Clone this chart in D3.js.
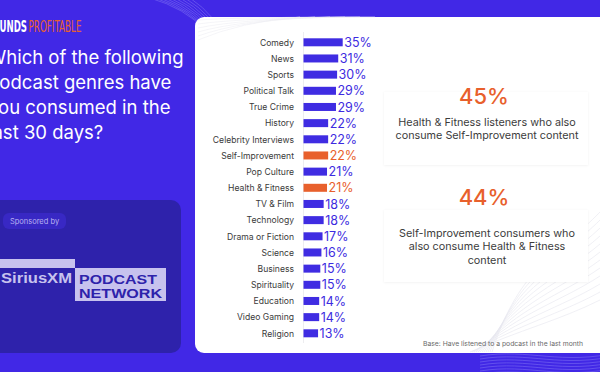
<!DOCTYPE html>
<html><head><meta charset="utf-8">
<script src="https://cdn.jsdelivr.net/npm/d3@7"></script>
<style>html,body{margin:0;padding:0;background:#4128E6;overflow:hidden}svg{display:block}</style>
</head><body>
<svg id="c" width="600" height="372"></svg>
<script>
const categories = ["Comedy","News","Sports","Political Talk","True Crime","History","Celebrity Interviews","Self-Improvement","Pop Culture","Health & Fitness","TV & Film","Technology","Drama or Fiction","Science","Business","Spirituality","Education","Video Gaming","Religion"];
const values = [35,31,30,29,29,22,22,22,21,21,18,18,17,16,15,15,14,14,13];
const highlighted = ["Self-Improvement","Health & Fitness"];
const titleLines = ["Which of the following","podcast genres have","you consumed in the","last 30 days?"];
const stats = [
  {value:"45%", lines:["Health & Fitness listeners who also","consume Self-Improvement content"]},
  {value:"44%", lines:["Self-Improvement consumers who","also consume Health & Fitness","content"]}
];
const footnote = "Base: Have listened to a podcast in the last month";

const BLUE="#4128E6", BAR="#3F2CE2", ORANGE="#E8602C";
const svg = d3.select("#c");
const font = "Inter, 'Open Sans', sans-serif";
const condensed = "'Liberation Sans Narrow','DejaVu Sans Condensed',sans-serif";

svg.append("rect").attr("width",600).attr("height",372).attr("fill",BLUE);

// decorative lines on blue
const defs = svg.append("defs");
const deco = svg.append("g").attr("fill","none");
for(let i=0;i<9;i++){
  deco.append("path")
    .attr("d",`M${150+i*5},-2 Q${185+i*4},${8+i*1} ${205+i*3},${30+i*2}`)
    .attr("stroke","#8E82F5").attr("stroke-opacity",0.55).attr("stroke-width",0.8);
}
for(let i=0;i<9;i++){
  deco.append("path")
    .attr("d",`M480,${356+i*3} C530,${348+i*3} 560,${366+i*3} 620,${352+i*3}`)
    .attr("stroke","#8E82F5").attr("stroke-opacity",0.55).attr("stroke-width",0.8);
}

// white panel
svg.append("rect").attr("x",195).attr("y",17).attr("width",420).attr("height",336).attr("rx",9).attr("fill","#fff");
const decoW = svg.append("g").attr("fill","none");
for(let i=0;i<12;i++){
  decoW.append("path")
    .attr("d",`M${470+i*2},352 C${520},${330-i*6} ${560},${320-i*6} ${600},${300-i*8}`)
    .attr("stroke","#E6E6EE").attr("stroke-width",0.6);
}
for(let i=0;i<6;i++){
  decoW.append("path")
    .attr("d",`M${198},${40-i*4} Q${240},${22-i*1} ${300+i*15},${17}`)
    .attr("stroke","#EEEEF3").attr("stroke-width",0.6);
}

// logo
svg.append("text").attr("x",-14).attr("y",32)
  .attr("font-family",condensed).attr("font-size",16.5).attr("font-weight","bold")
  .attr("fill","#fff").attr("textLength",41).attr("lengthAdjust","spacingAndGlyphs").text("SOUNDS");
svg.append("text").attr("x",28.5).attr("y",32)
  .attr("font-family",condensed).attr("font-size",16.5)
  .attr("fill",ORANGE).attr("textLength",53).attr("lengthAdjust","spacingAndGlyphs").text("PROFITABLE");

// title
svg.append("g").selectAll("text").data(titleLines).join("text")
  .attr("x",-12).attr("y",(d,i)=>64+i*25)
  .attr("font-family",font).attr("font-size",18.5).attr("font-weight",400)
  .attr("fill","#fff").text(d=>d);

// sponsor box
svg.append("rect").attr("x",-20).attr("y",200).attr("width",201).attr("height",153).attr("rx",10).attr("fill","#2E22AB");
svg.append("rect").attr("x",3).attr("y",213).attr("width",63).attr("height",16).attr("rx",6).attr("fill","#3828C4");
svg.append("text").attr("x",34.5).attr("y",224).attr("text-anchor","middle")
  .attr("font-family",font).attr("font-size",7.5).attr("fill","#B9B2F2").text("Sponsored by");
const LAV="#C7C2EE";
const sansB="'Liberation Sans','DejaVu Sans',sans-serif";
svg.append("rect").attr("x",-2).attr("y",259).attr("width",77).attr("height",9).attr("fill",LAV);
svg.append("text").attr("x",1).attr("y",283).attr("font-family",sansB)
  .attr("font-size",14).attr("font-weight","bold").attr("fill",LAV).attr("textLength",71).attr("lengthAdjust","spacingAndGlyphs").text("SiriusXM");
svg.append("rect").attr("x",75).attr("y",268).attr("width",91).attr("height",33).attr("fill",LAV);
svg.append("text").attr("x",79).attr("y",283.5).attr("font-family",sansB)
  .attr("font-size",13.5).attr("font-weight","bold").attr("fill","#2E22AB").attr("textLength",78).attr("lengthAdjust","spacingAndGlyphs").text("PODCAST");
svg.append("text").attr("x",79).attr("y",297.5).attr("font-family",sansB)
  .attr("font-size",13.5).attr("font-weight","bold").attr("fill","#2E22AB").attr("textLength",83).attr("lengthAdjust","spacingAndGlyphs").text("NETWORK");

// bar chart
const x0 = 303.5;
const x = d3.scaleLinear().domain([0,100]).range([0,112]);
const y = d3.scalePoint().domain(categories).range([42.3,333.3]);
const bh = 8;
svg.append("line").attr("x1",x0).attr("x2",x0).attr("y1",32).attr("y2",343).attr("stroke","#E8E8EC").attr("stroke-width",0.8);
const rows = svg.append("g").selectAll("g").data(categories).join("g");
rows.append("rect").attr("x",x0).attr("y",d=>y(d)-bh/2).attr("height",bh)
  .attr("width",(d,i)=>x(values[i]))
  .attr("fill",d=>highlighted.includes(d)?ORANGE:BAR);
rows.append("text").attr("x",294).attr("y",d=>y(d)+3.2).attr("text-anchor","end")
  .attr("font-family",font).attr("font-size",8.6).attr("fill","#3a3a3a").text(d=>d);
rows.append("text").attr("x",(d,i)=>x0+x(values[i])+1.5).attr("y",d=>y(d)+4.6)
  .attr("font-family",font).attr("font-size",12.5).attr("fill",d=>highlighted.includes(d)?ORANGE:"#3D2BE0")
  .text((d,i)=>values[i]+"%");

// stat cards
const filt = defs.append("filter").attr("id","sh").attr("x","-10%").attr("y","-10%").attr("width","120%").attr("height","130%");
filt.append("feDropShadow").attr("dx",0).attr("dy",0.5).attr("stdDeviation",1.2).attr("flood-color","#000").attr("flood-opacity",0.06);
const cards = [{y:92,h:73,vy:104,ty:126},{y:210,h:72,vy:205,ty:237}];
stats.forEach((s,k)=>{
  const c=cards[k];
  svg.append("rect").attr("x",384).attr("y",c.y).attr("width",204).attr("height",c.h).attr("fill","#fff").attr("filter","url(#sh)");
  svg.append("text").attr("x",484).attr("y",c.vy).attr("text-anchor","middle")
    .attr("font-family",font).attr("font-size",22).attr("font-weight",500).attr("fill",ORANGE).text(s.value);
  svg.append("g").selectAll("text").data(s.lines).join("text")
    .attr("x",487).attr("y",(d,i)=>c.ty+i*13.3).attr("text-anchor","middle")
    .attr("font-family",font).attr("font-size",10.8).attr("fill","#3c3c3c").text(d=>d);
});

svg.append("text").attr("x",583).attr("y",346).attr("text-anchor","end")
  .attr("font-family",font).attr("font-size",6.8).attr("fill","#6a6a6a").text(footnote);
</script>
</body></html>
